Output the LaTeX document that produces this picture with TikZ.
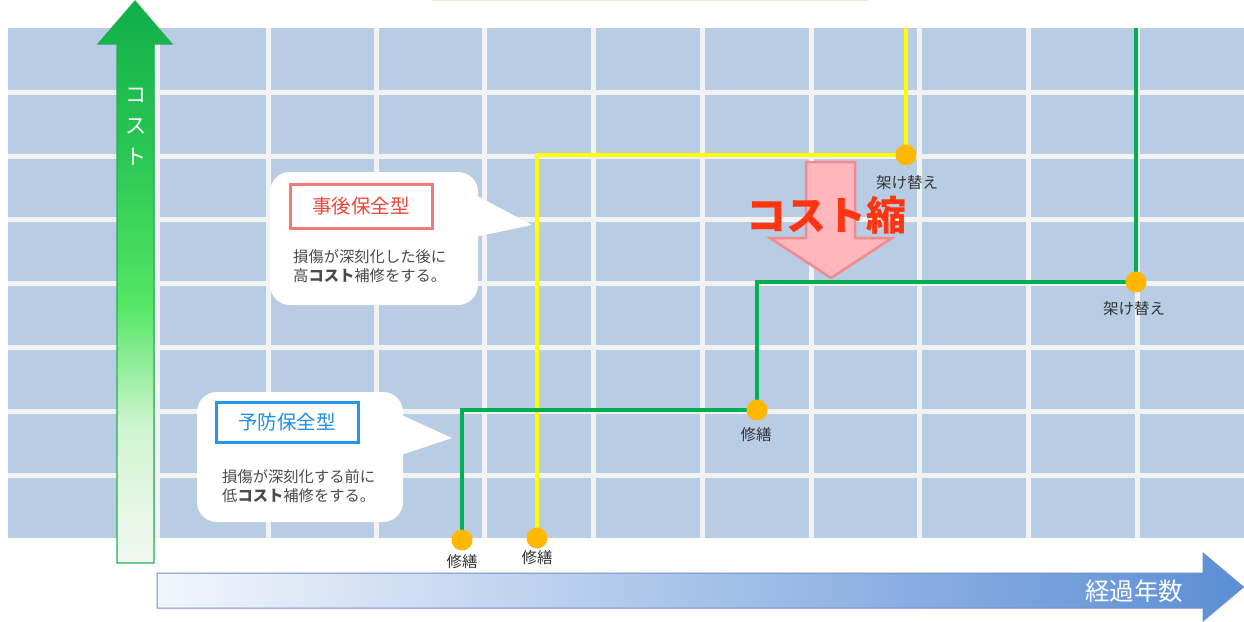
\documentclass[tikz,border=0pt]{standalone}
\usepackage{fontspec}
\setmainfont{Noto Sans CJK JP}
\definecolor{gridblue}{HTML}{B8CCE4}
\definecolor{gridline}{HTML}{F2F2F2}
\definecolor{greenl}{HTML}{00B050}
\definecolor{yell}{HTML}{FFFF00}
\definecolor{dotc}{HTML}{FFB800}
\definecolor{cbot}{HTML}{F2F8F2}
\definecolor{clight}{HTML}{D0F5D0}
\definecolor{cmid}{HTML}{55E665}
\definecolor{cmid2}{HTML}{2CC853}
\definecolor{ctop}{HTML}{10AE4A}
\definecolor{cborder}{HTML}{22B054}
\definecolor{tleft}{HTML}{F2F6FB}
\definecolor{tright}{HTML}{5B8ED6}
\definecolor{tborder}{HTML}{6F90C6}
\definecolor{redb}{HTML}{F27979}
\definecolor{redt}{HTML}{E8473A}
\definecolor{blueb}{HTML}{2196F3}
\definecolor{bluet}{HTML}{1E8FE6}
\definecolor{pinkf}{HTML}{FFB6BC}
\definecolor{pinkd}{HTML}{F28A8F}
\definecolor{bigred}{HTML}{FF3410}
\definecolor{bodyc}{HTML}{4A4A4A}
\definecolor{topl}{HTML}{FBE3CF}
\pgfdeclareverticalshading{costshade}{100bp}{color(0bp)=(cbot); color(25bp)=(cbot); color(37bp)=(clight); color(48bp)=(cmid); color(61bp)=(cmid2); color(75bp)=(ctop); color(100bp)=(ctop)}
\begin{document}
\begin{tikzpicture}[x=1pt,y=-1pt,
  lbl/.style={font=\fontsize{15.5}{16}\selectfont, text=black!80, inner sep=0},
  dot/.style={circle, fill=dotc, minimum size=21pt, inner sep=0},
  gline/.style={draw=greenl, line width=4.5pt},
  yline/.style={draw=yell, line width=4.5pt},
  bubble/.style={fill=white, rounded corners=20pt},
  titlebox/.style={draw, line width=3pt, fill=white, minimum width=142pt, inner sep=0, font=\fontsize{19.5}{21}\selectfont},
  body/.style={anchor=west, align=left, inner sep=0, text=bodyc, font=\fontsize{15.3}{19.5}\selectfont},
  gridl/.style={draw=gridline, line width=5pt}
]
\useasboundingbox (0,0) rectangle (1244,621);
\fill[white] (0,0) rectangle (1244,621);
\draw[topl, line width=1.5pt] (432,0.5) -- (868,0.5);
% grid
\fill[gridblue] (8,28) rectangle (1244,538);
\foreach \x in {157,268,376,484,593,702,811,919,1028,1137} \draw[gridl] (\x,28) -- (\x,538);
\foreach \y in {92,156,219,283,347,411,475} \draw[gridl] (8,\y) -- (1244,\y);
% cost axis arrow
\shade[shading=costshade, draw=cborder, line width=1.2pt] (117,563) -- (117,44) -- (98,44) -- (135,1) -- (172,44) -- (154,44) -- (154,563) -- cycle;
\node[text=white, align=center, inner sep=0, font=\fontsize{21}{31}\selectfont] (costlbl) at (136,127) {コ\\ス\\ト};
% time axis arrow
\shade[left color=tleft, right color=tright, draw=tborder, line width=1pt] (157,573) -- (1203,573) -- (1203,553) -- (1243.5,587) -- (1203,621) -- (1203,608) -- (157,608) -- cycle;
\node[text=white, inner sep=0, font=\fontsize{24.5}{25}\selectfont] (timelbl) at (1134,591) {経過年数};
% callout 1
\fill[bubble] (270,172) rectangle (478,305);
\fill[white] (470,192) -- (532,225) -- (470,238) -- cycle;
\node[titlebox, draw=redb, text=redt, minimum height=44pt] (t1) at (361,206) {事後保全型};
\node[body] (b1) at (293,266) {損傷が深刻化した後に\\高{\bfseries コスト}補修をする。};
% callout 2
\fill[bubble] (197,392) rectangle (403,522);
\fill[white] (395,412) -- (452,438) -- (395,457) -- cycle;
\node[titlebox, draw=blueb, text=bluet, minimum height=40pt] (t2) at (287,422) {予防保全型};
\node[body] (b2) at (222,486) {損傷が深刻化する前に\\低{\bfseries コスト}補修をする。};
% cost reduction arrow
\draw[fill=pinkf, draw=pinkd, line width=2.5pt] (806,162) -- (855,162) -- (855,238) -- (892,238) -- (831,278) -- (770,238) -- (806,238) -- cycle;
% step lines
\coordinate (pg1) at (462,540);
\coordinate (pg2) at (757,410);
\coordinate (pg3) at (1136,282);
\coordinate (gtop) at (1136,28);
\coordinate (py1) at (537,538);
\coordinate (py2) at (906,155);
\coordinate (ytop) at (906,28);
\draw[yline] (py1) |- (py2) -- (ytop);
\draw[gline] (pg1) |- (pg2) |- (pg3) -- (gtop);
\node[dot] (g1) at (pg1) {};
\node[dot] (g2) at (pg2) {};
\node[dot] (g3) at (pg3) {};
\node[dot] (y1) at (py1) {};
\node[dot] (y2) at (py2) {};
\node[lbl] (lg1) at (462,562) {修繕};
\node[lbl] (ly1) at (537,558) {修繕};
\node[lbl] (lg2) at (756,435) {修繕};
\node[lbl] (ly2) at (907,183) {架け替え};
\node[lbl] (lg3) at (1134,309) {架け替え};
\node[font=\fontsize{40}{40}\selectfont\bfseries, text=bigred, inner sep=0] (cut) at (826,215) {コスト縮};
\end{tikzpicture}
\end{document}
